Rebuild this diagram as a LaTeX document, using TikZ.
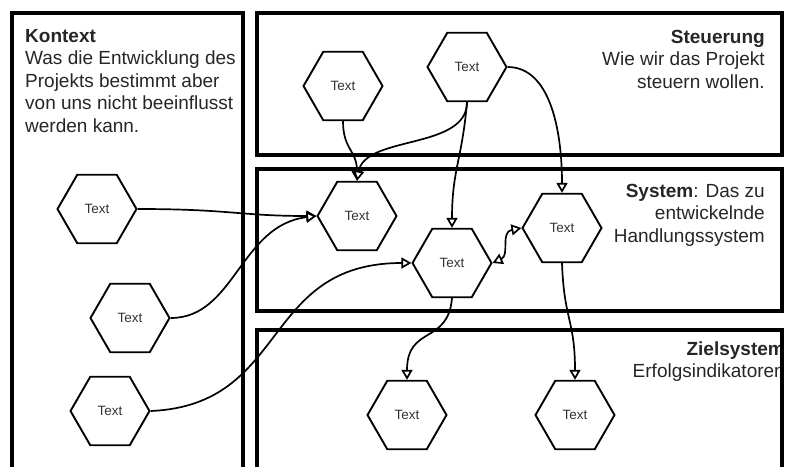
\documentclass[tikz,border=0pt]{standalone}
\usepackage{fontspec}
\setmainfont{Liberation Sans}
\usetikzlibrary{shapes.geometric,arrows.meta}

\begin{document}
\begin{tikzpicture}[x=1pt,y=-1pt,
  hexnode/.style={draw, regular polygon, regular polygon sides=6,
    minimum size=79pt, inner sep=0pt, line width=1.9pt,
    font=\fontsize{13.5}{16}\selectfont, text=black!80},
  panel/.style={line width=3.4pt},
  paneltext/.style={inner sep=0pt, font=\fontsize{19}{22.5}\selectfont, text=black!85},
  flow/.style={line width=1.7pt, -{Triangle[open, fill=white, length=10pt, width=11pt]}},
  bothflow/.style={line width=1.7pt,
    {Triangle[open, fill=white, length=10pt, width=11pt]}-{Triangle[open, fill=white, length=10pt, width=11pt]}},
]
\useasboundingbox (0,0) rectangle (786,466);
\clip (0,0) rectangle (786,466);

% panel captions (anchored at the baseline of their last line)
\node[paneltext, anchor=base west, align=left] (kontext) at (25,132)
  {\textbf{Kontext}\\Was die Entwicklung des\\Projekts bestimmt aber\\von uns nicht beeinflusst\\werden kann.};
\node[paneltext, anchor=base east, align=right] (steuerung) at (765,88)
  {\textbf{Steuerung}\\Wie wir das Projekt\\steuern wollen.};
\node[paneltext, anchor=base east, align=right] (system) at (765,242)
  {\textbf{System}: Das zu\\entwickelnde\\Handlungssystem};
\node[paneltext, anchor=base east, align=right] (ziel) at (785,377.5)
  {\textbf{Zielsystem}\\Erfolgsindikatoren};

% panels
\draw[panel] (12,470) -- (12,13) -- (243,13) -- (243,470);
\draw[panel] (257,13) rectangle (782,155);
\draw[panel] (257,169) rectangle (782,311);
\draw[panel] (257,470) -- (257,330) -- (782,330) -- (782,470);

% elements
\node[hexnode] (s1) at (343,86) {Text};
\node[hexnode] (s2) at (467,67) {Text};
\node[hexnode] (k1) at (97,209) {Text};
\node[hexnode] (k2) at (130,318) {Text};
\node[hexnode] (k3) at (110,411) {Text};
\node[hexnode] (a) at (357,216) {Text};
\node[hexnode] (b) at (452,263) {Text};
\node[hexnode] (c) at (562,228) {Text};
\node[hexnode] (z1) at (407,415) {Text};
\node[hexnode] (z2) at (575,415) {Text};

% influences
\draw[flow] (s1.south) .. controls (343,150) and (357,150) .. (a.north);
\draw[flow] (s2.south) .. controls (467,150) and (365,135) .. (a.north);
\draw[flow] (s2.south) .. controls (462,160) and (452,170) .. (b.north);
\draw[flow] (s2.east) .. controls (550,67) and (562,130) .. (c.north);
\draw[flow] (k1.east) .. controls (230,209) and (240,216) .. (a.west);
\draw[flow] (k2.east) .. controls (235,318) and (240,225) .. (a.west);
\draw[flow] (k3.east) .. controls (290,405) and (260,263) .. (b.west);
\draw[bothflow] (b.east) .. controls (510,255) and (500,232) .. (c.west);
\draw[flow] (b.south) .. controls (448,345) and (407,325) .. (z1.north);
\draw[flow] (c.south) .. controls (564,320) and (575,320) .. (z2.north);
\end{tikzpicture}
\end{document}
